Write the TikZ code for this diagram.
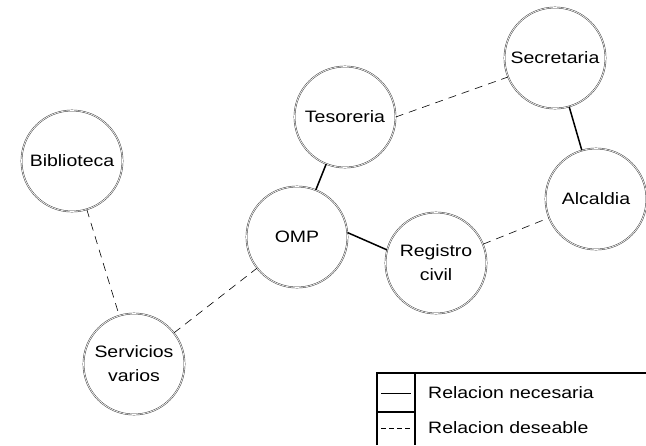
\documentclass[tikz,border=0pt]{standalone}
\usepackage{fontspec}
\setmainfont{Liberation Sans}[FakeStretch=1.18]
\begin{document}
\begin{tikzpicture}[x=1pt,y=-1pt,
  unit/.style={circle,draw=black!80,line width=0.45pt,double=white,double distance=0.7pt,
    minimum size=101pt,inner sep=0pt,align=center,font=\fontsize{16.5}{24}\selectfont},
  need/.style={line width=1.5pt,black},
  want/.style={line width=0.6pt,black,dash pattern=on 8pt off 6pt},
  legline/.style={line width=1.1pt,black},
  legtext/.style={anchor=west,inner sep=0pt,font=\fontsize{16.5}{20}\selectfont}]
\useasboundingbox (0,0) rectangle (646,445);
% nodes
\node[unit] (bib) at (72,161) {Biblioteca};
\node[unit] (ser) at (134,364) {Servicios\\varios};
\node[unit] (omp) at (297,237) {OMP};
\node[unit] (tes) at (345,117) {Tesoreria};
\node[unit] (sec) at (555,58) {Secretaria};
\node[unit] (alc) at (596,199) {Alcaldia};
\node[unit] (reg) at (436,263) {Registro\\civil};
% connectors
\draw[want] (bib) -- (ser);
\draw[want] (ser) -- (omp);
\draw[need] (omp) -- (tes);
\draw[need] (omp.5) -- (reg.165);
\draw[want] (tes.0) -- (sec.202);
\draw[need] (sec) -- (alc);
\draw[want] (reg) -- (alc);
% legend
\coordinate (lA) at (377,373);
\coordinate (lB) at (646,373);
\coordinate (lC) at (377,445);
\coordinate (lD) at (415,373);
\coordinate (lE) at (415,445);
\coordinate (lF) at (377,412);
\coordinate (lG) at (415,412);
\draw[legline] (lC) -- (lA) -- (lB);
\draw[legline] (lD) -- (lE);
\draw[legline] (lF) -- (lG);
\coordinate (s1) at (381,393);
\coordinate (s2) at (411,393);
\coordinate (d1) at (381,428);
\coordinate (d2) at (411,428);
\draw[line width=0.7pt] (s1) -- (s2);
\draw[line width=0.7pt,dash pattern=on 5pt off 3pt] (d1) -- (d2);
\node[legtext] (t1) at (428,393) {Relacion necesaria};
\node[legtext] (t2) at (428,428) {Relacion deseable};
\end{tikzpicture}
\end{document}
